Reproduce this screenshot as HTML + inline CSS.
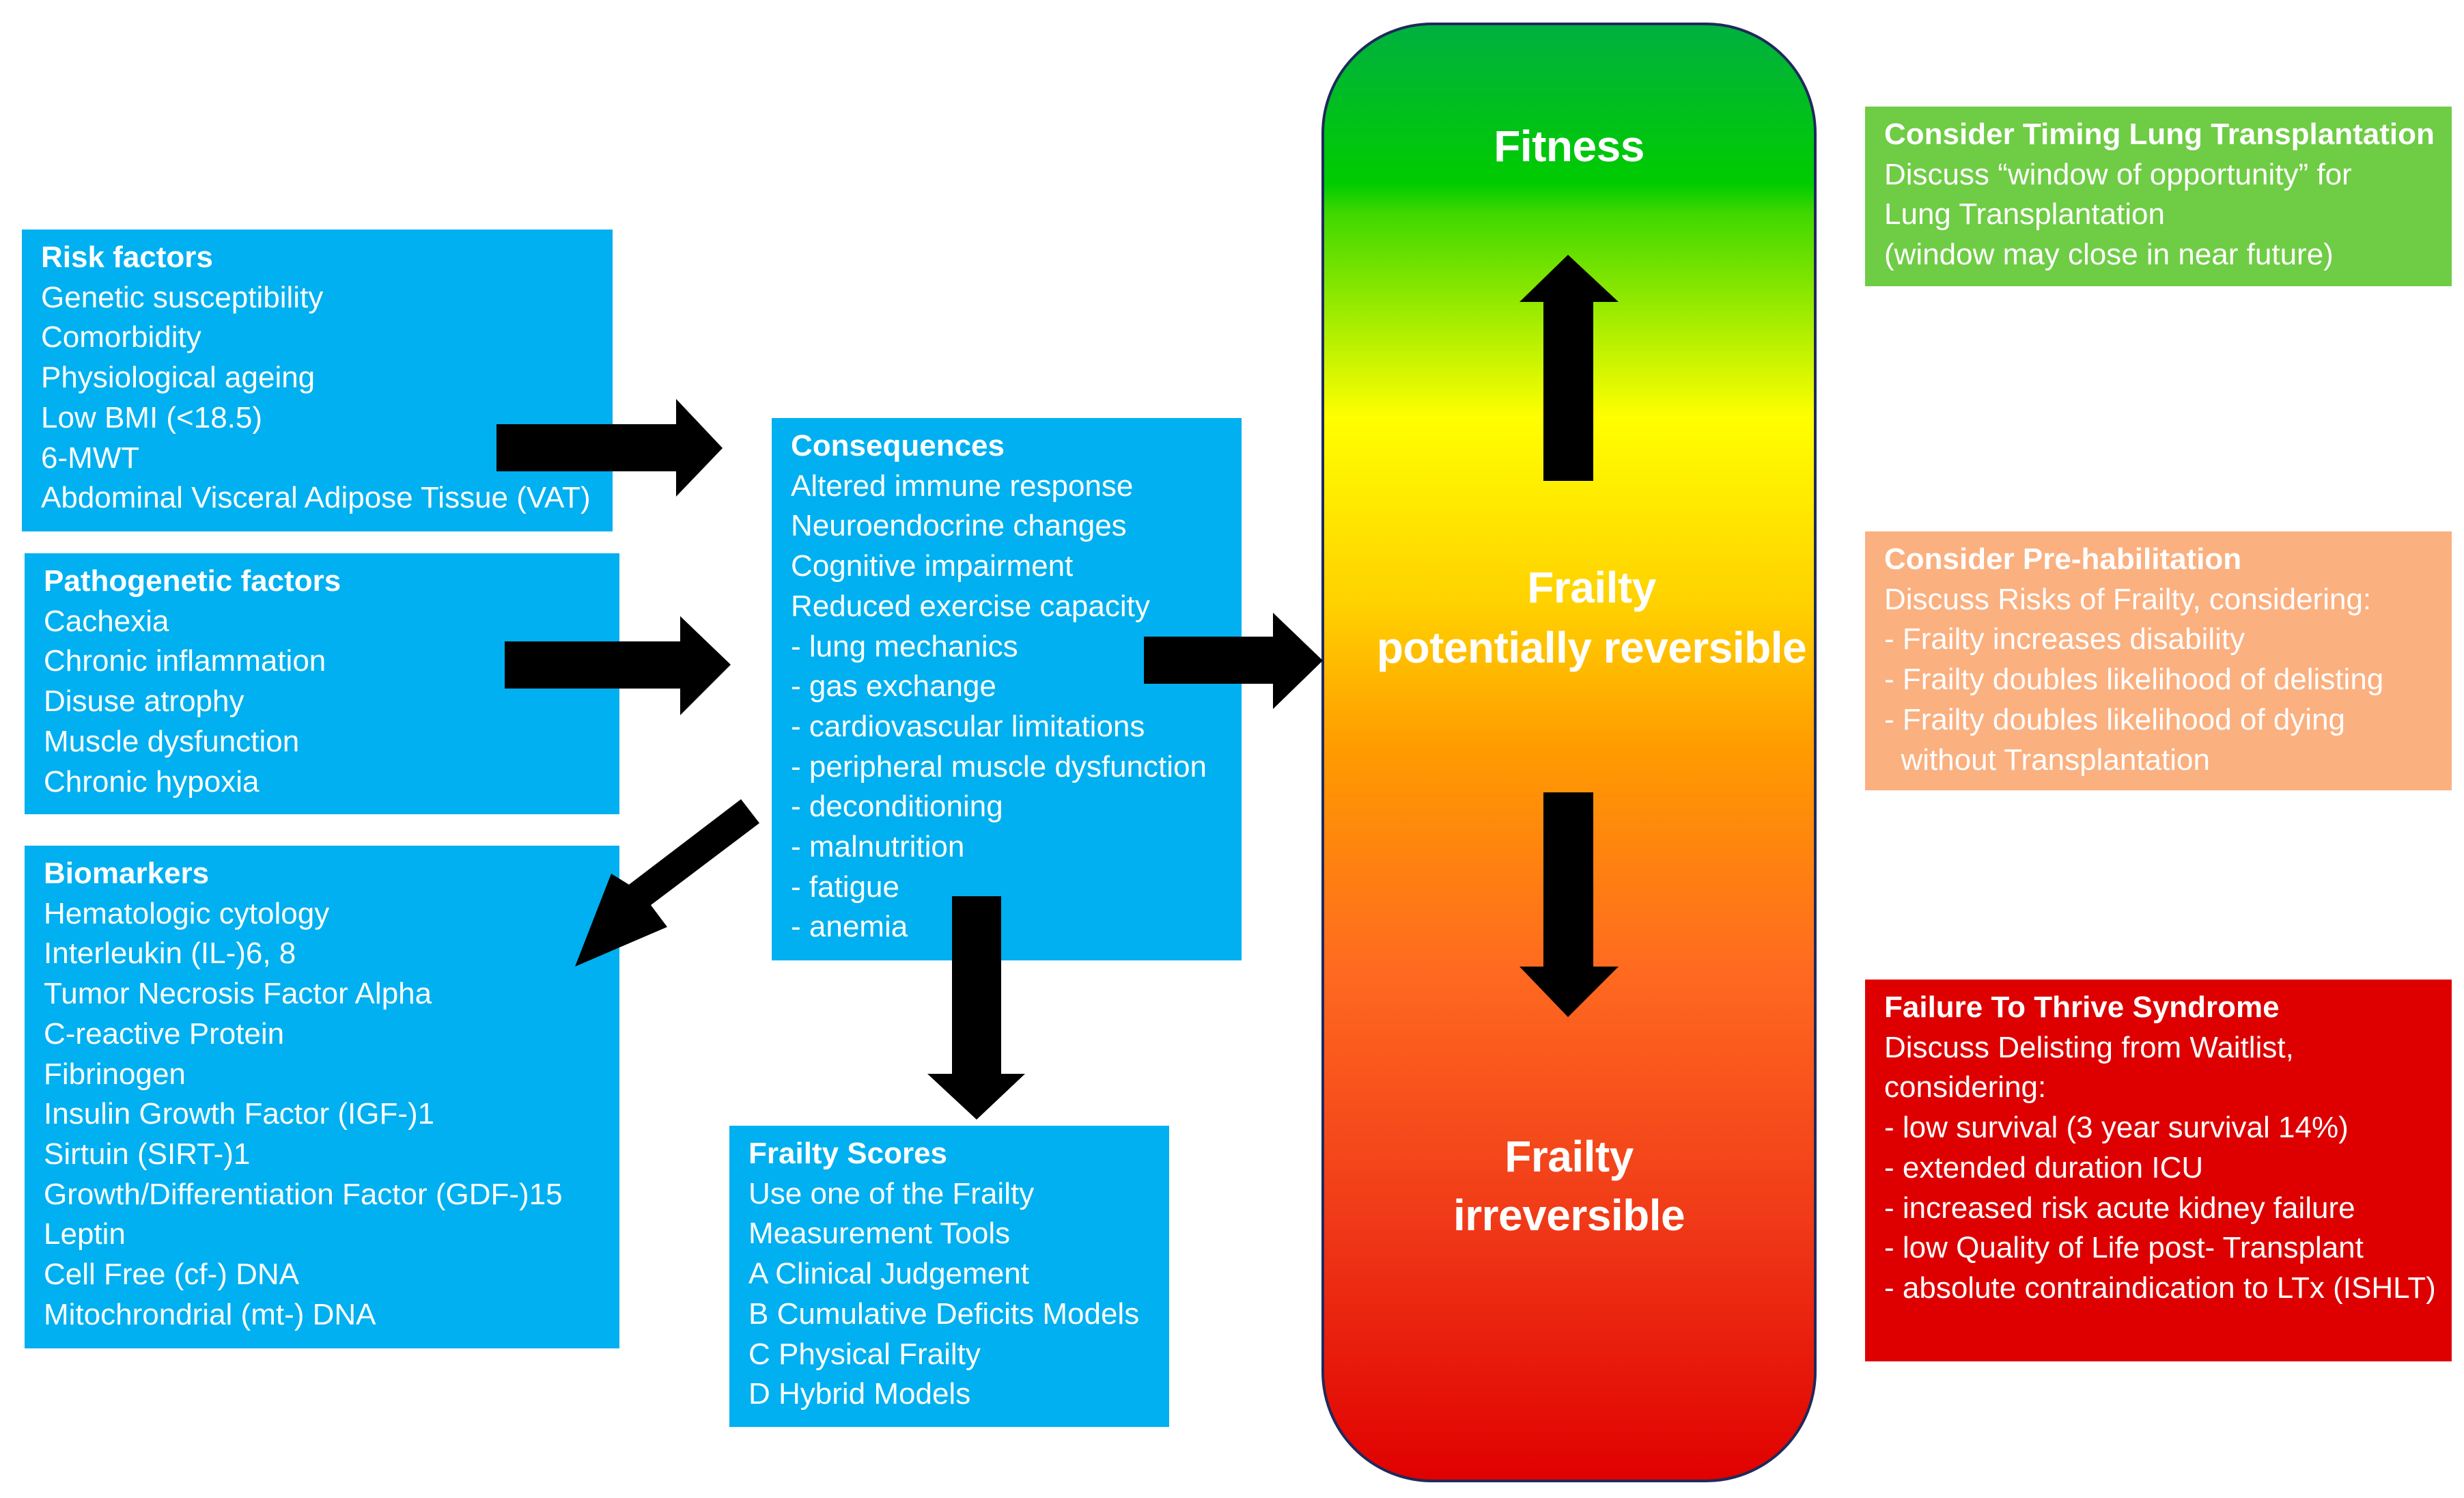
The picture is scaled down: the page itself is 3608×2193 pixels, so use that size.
<!DOCTYPE html>
<html><head><meta charset="utf-8"><style>
html,body{margin:0;padding:0;background:#fff;}
body{width:3608px;height:2193px;position:relative;overflow:hidden;font-family:"Liberation Sans",sans-serif;}
.b{position:absolute;color:#fff;font-size:44px;line-height:58.7px;box-sizing:border-box;padding:12px 0 0 28px;white-space:nowrap;letter-spacing:0px}
.b b{font-weight:bold}
.blue{background:#00b0f0}
svg{position:absolute;left:0;top:0}
.t{position:absolute;color:#fff;font-weight:bold;font-size:64px;text-align:center;line-height:88px;white-space:nowrap;letter-spacing:-0.5px}
</style></head><body>
<svg width="3608" height="2193">
<defs><linearGradient id="g" x1="0" y1="0" x2="0" y2="1">
<stop offset="0" stop-color="#00b040"/>
<stop offset="0.11" stop-color="#00cc00"/>
<stop offset="0.13" stop-color="#40d800"/>
<stop offset="0.27" stop-color="#ffff00"/>
<stop offset="0.40" stop-color="#ffd000"/>
<stop offset="0.50" stop-color="#ff9a00"/>
<stop offset="0.65" stop-color="#ff6a20"/>
<stop offset="0.82" stop-color="#f03a18"/>
<stop offset="1" stop-color="#e00000"/>
</linearGradient></defs>
<rect x="1937" y="35" width="721" height="2133" rx="160" ry="160" fill="url(#g)" stroke="#1f2a5a" stroke-width="4"/>
</svg>
<div class="b blue" style="left:32px;top:336px;width:865px;height:442px"><b>Risk factors</b><br>Genetic susceptibility<br>Comorbidity<br>Physiological ageing<br>Low BMI (&lt;18.5)<br>6-MWT<br>Abdominal Visceral Adipose Tissue (VAT)</div>
<div class="b blue" style="left:36px;top:810px;width:871px;height:382px"><b>Pathogenetic factors</b><br>Cachexia<br>Chronic inflammation<br>Disuse atrophy<br>Muscle dysfunction<br>Chronic hypoxia</div>
<div class="b blue" style="left:36px;top:1238px;width:871px;height:736px"><b>Biomarkers</b><br>Hematologic cytology<br>Interleukin (IL-)6, 8<br>Tumor Necrosis Factor Alpha<br>C-reactive Protein<br>Fibrinogen<br>Insulin Growth Factor (IGF-)1<br>Sirtuin (SIRT-)1<br>Growth/Differentiation Factor (GDF-)15<br>Leptin<br>Cell Free (cf-) DNA<br>Mitochrondrial (mt-) DNA</div>
<div class="b blue" style="left:1130px;top:612px;width:688px;height:794px"><b>Consequences</b><br>Altered immune response<br>Neuroendocrine changes<br>Cognitive impairment<br>Reduced exercise capacity<br>- lung mechanics<br>- gas exchange<br>- cardiovascular limitations<br>- peripheral muscle dysfunction<br>- deconditioning<br>- malnutrition<br>- fatigue<br>- anemia</div>
<div class="b blue" style="left:1068px;top:1648px;width:644px;height:441px"><b>Frailty Scores</b><br>Use one of the Frailty<br>Measurement Tools<br>A Clinical Judgement<br>B Cumulative Deficits Models<br>C Physical Frailty<br>D Hybrid Models</div>
<div class="b" style="left:2731px;top:156px;width:859px;height:263px;background:#6fcc45"><b>Consider Timing Lung Transplantation</b><br>Discuss “window of opportunity” for<br>Lung Transplantation<br>(window may close in near future)</div>
<div class="b" style="left:2731px;top:778px;width:859px;height:379px;background:#fbb080"><b>Consider Pre-habilitation</b><br>Discuss Risks of Frailty, considering:<br>- Frailty increases disability<br>- Frailty doubles likelihood of delisting<br>- Frailty doubles likelihood of dying<br>&nbsp;&nbsp;without Transplantation</div>
<div class="b" style="left:2731px;top:1434px;width:859px;height:559px;background:#de0000"><b>Failure To Thrive Syndrome</b><br>Discuss Delisting from Waitlist,<br>considering:<br>- low survival (3 year survival 14%)<br>- extended duration ICU<br>- increased risk acute kidney failure<br>- low Quality of Life post- Transplant<br>- absolute contraindication to LTx (ISHLT)</div>
<div class="t" style="left:1937px;width:721px;top:170px">Fitness</div>
<div class="t" style="left:1970px;width:721px;top:816px;line-height:88px">Frailty<br>potentially reversible</div>
<div class="t" style="left:1937px;width:721px;top:1650px;line-height:86px">Frailty<br>irreversible</div>
<svg width="3608" height="2193" style="pointer-events:none">
<g fill="#000">
<polygon points="727,621 990,621 990,584 1058,656 990,727 990,690 727,690"/>
<polygon points="739,939 996,939 996,902 1070,973 996,1047 996,1008 739,1008"/>
<polygon points="1675,932 1864,932 1864,897 1937,967 1864,1038 1864,1001 1675,1001"/>
<polygon points="1394,1312 1466,1312 1466,1572 1501,1572 1430,1639 1358,1572 1394,1572"/>
<polygon points="2260,704 2333,704 2333,442 2370,442 2296,373 2225,442 2260,442"/>
<polygon points="2260,1160 2333,1160 2333,1415 2370,1415 2296,1489 2225,1415 2260,1415"/>
<polygon points="1085,1170 1112,1205 953,1325 977,1357 842,1415 895,1279 921,1295"/>
</g>
</svg>
</body></html>
